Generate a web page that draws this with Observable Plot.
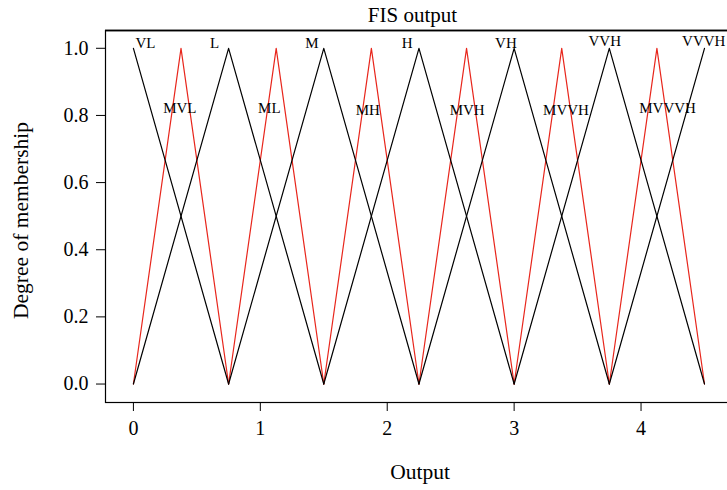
<!DOCTYPE html>
<html>
<head>
<meta charset="utf-8">
<script src="https://cdn.jsdelivr.net/npm/d3@7"></script>
<script src="https://cdn.jsdelivr.net/npm/@observablehq/plot@0.6"></script>
<style>
  html, body { margin: 0; padding: 0; background: white; }
</style>
</head>
<body>
<div id="chart"></div>
<script>
// Universe of discourse
const universe = [0, 4.5];

// Black membership functions (trimf parameters a, b, c)
const blackNames = ["VL", "L", "M", "H", "VH", "VVH", "VVVH"];
const blackParams = [
  [-0.75, 0, 0.75],
  [0, 0.75, 1.5],
  [0.75, 1.5, 2.25],
  [1.5, 2.25, 3.0],
  [2.25, 3.0, 3.75],
  [3.0, 3.75, 4.5],
  [3.75, 4.5, 5.25]
];
const blackLabelX = [0.095, 0.639, 1.406, 2.158, 2.935, 3.714, 4.494];
const blackLabelY = [1.016, 1.016, 1.016, 1.014, 1.014, 1.022, 1.022];

// Red membership functions
const redNames = ["MVL", "ML", "MH", "MVH", "MVVH", "MVVVH"];
const redParams = [
  [0, 0.375, 0.75],
  [0.75, 1.125, 1.5],
  [1.5, 1.875, 2.25],
  [2.25, 2.625, 3.0],
  [3.0, 3.375, 3.75],
  [3.75, 4.125, 4.5]
];
const redLabelX = [0.366, 1.071, 1.847, 2.630, 3.409, 4.209];
const redLabelY = [0.821, 0.821, 0.816, 0.816, 0.816, 0.822];

const xTicks = [0, 1, 2, 3, 4];
const yTicks = [0, 0.2, 0.4, 0.6, 0.8, 1.0];
const xDomain = [-0.22, 4.697];
const yDomain = [-0.055, 1.053];

// Vertices of each triangle inside the universe
function vertices(names, params, group) {
  const out = [];
  names.forEach((name, i) => {
    const [a, b, c] = params[i];
    [[a, 0], [b, 1], [c, 0]].forEach(([x, y]) => {
      if (x >= universe[0] && x <= universe[1]) out.push({name, group, x, y});
    });
  });
  return out;
}
const blackPts = vertices(blackNames, blackParams, "black");
const redPts = vertices(redNames, redParams, "red");
const labels = [
  ...blackNames.map((t, i) => ({t, x: blackLabelX[i], y: blackLabelY[i]})),
  ...redNames.map((t, i) => ({t, x: redLabelX[i], y: redLabelY[i]}))
];

const FONT = "'Liberation Serif', 'DejaVu Serif', serif";

const chart = Plot.plot({
  width: 727,
  height: 490,
  marginLeft: 105,
  marginRight: -2,
  marginTop: 30,
  marginBottom: 88,
  style: {fontFamily: FONT, background: "white"},
  x: {domain: xDomain},
  y: {domain: yDomain},
  marks: [
    Plot.axisY({ticks: yTicks, tickFormat: d3.format(".1f"), tickSize: 9, tickPadding: 8,
      fontSize: 20, label: null, stroke: "black", fill: "black", fontFamily: FONT}),
    Plot.axisX({ticks: xTicks, tickFormat: d3.format("d"), tickSize: 9, tickPadding: 9,
      fontSize: 20, label: null, stroke: "black", fill: "black", fontFamily: FONT}),
    Plot.line(redPts, {x: "x", y: "y", z: "name", stroke: "#e8261c", strokeWidth: 1.2}),
    Plot.line(blackPts, {x: "x", y: "y", z: "name", stroke: "black", strokeWidth: 1.2}),
    Plot.text(labels, {x: "x", y: "y", text: "t", fontSize: 15, fill: "black", fontFamily: FONT}),
    Plot.text(["FIS output"], {frameAnchor: "top", lineAnchor: "middle", textAnchor: "middle", dx: -5, dy: -15.7, fontSize: 21, fill: "black", fontFamily: FONT}),
    Plot.text(["Output"], {frameAnchor: "bottom", lineAnchor: "middle", textAnchor: "middle", dx: 2.5, dy: 70, fontSize: 21.5, fill: "black", fontFamily: FONT}),
    Plot.text(["Degree of membership"], {frameAnchor: "left", lineAnchor: "middle", textAnchor: "middle", rotate: -90, dx: -84, dy: 4, fontSize: 21.5, fill: "black", fontFamily: FONT}),
    Plot.ruleY([yDomain[1]], {stroke: "#444", strokeWidth: 2}),
    Plot.frame({stroke: "black", strokeWidth: 1.2})
  ]
});
document.getElementById("chart").appendChild(chart);
</script>
</body>
</html>
